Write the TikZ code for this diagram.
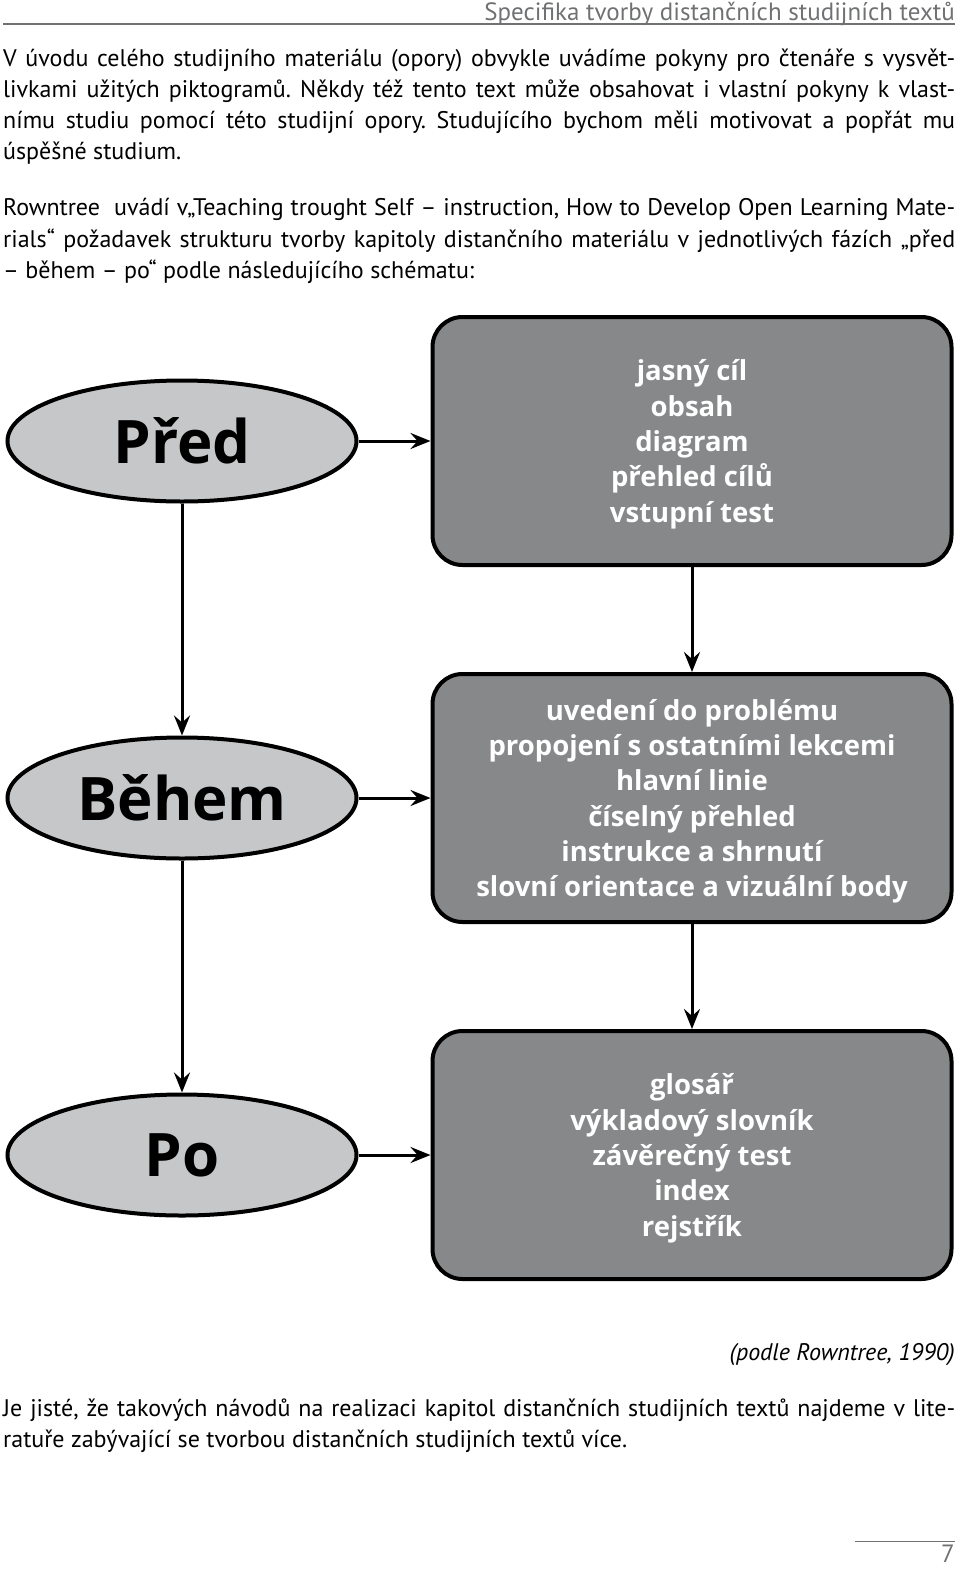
\documentclass[tikz,border=0pt]{standalone}
\usepackage{fontspec}
\setmainfont{PT Sans}
\newfontfamily\headfont{PT Sans}
\newfontfamily\diagfont{Open Sans}
\usetikzlibrary{positioning}
\usetikzlibrary{shapes.geometric}
\usetikzlibrary{arrows.meta}
\definecolor{boxgray}{HTML}{87888A}
\definecolor{ellgray}{HTML}{C6C7C8}
\definecolor{headgray}{HTML}{707173}
\frenchspacing

\begin{document}
\begin{tikzpicture}[x=1pt,y=-1pt,
    body/.style={anchor=base west, inner sep=0pt, font=\fontsize{24}{31}\selectfont},
    phase/.style={ellipse, draw=black, line width=4pt, fill=ellgray,
        minimum width=349pt, minimum height=121pt, inner sep=0pt,
        font=\diagfont\bfseries\fontsize{60}{60}\selectfont},
    items/.style={rectangle, rounded corners=30pt, draw=black, line width=4pt, fill=boxgray,
        minimum width=519pt, minimum height=248pt, align=center, text=white,
        text depth=0pt, font=\diagfont\bfseries\fontsize{27.5}{35.3}\selectfont},
    link/.style={line width=3pt, -{Stealth[length=20pt,width=16pt,inset=7pt]}},
  ]
  \useasboundingbox (0,0) rectangle (960,1569);

  % header
  \node[anchor=base east, inner sep=0pt, text=headgray, font=\headfont\fontsize{25}{25}\selectfont] (head) at (955,20) {Specifika tvorby distančních studijních textů};
  \coordinate (headL) at (3,24);
  \coordinate (headR) at (955,24);
  \draw[headgray, line width=1.5pt] (headL) -- (headR);

  % text above
  \node[body] (t1) at (3,66) {\makebox[952pt][s]{V úvodu celého studijního materiálu (opory) obvykle uvádíme pokyny pro čtenáře s vysvět-}};
  \node[body] (t2) at (3,97) {\makebox[952pt][s]{livkami užitých piktogramů. Někdy též tento text může obsahovat i vlastní pokyny k vlast-}};
  \node[body] (t3) at (3,128) {\makebox[952pt][s]{nímu studiu pomocí této studijní opory. Studujícího bychom měli motivovat a popřát mu}};
  \node[body] (t4) at (3,159) {úspěšné studium.};
  \node[body] (t5) at (3,215) {\makebox[952pt][s]{Rowntree\ \ uvádí v„Teaching trought Self – instruction, How to Develop Open Learning Mate-}};
  \node[body] (t6) at (3,247) {\makebox[952pt][s]{rials“ požadavek strukturu tvorby kapitoly distančního materiálu v jednotlivých fázích „před}};
  \node[body] (t7) at (3,278) {– během – po“ podle následujícího schématu:};

  % phases
  \node[phase] (pred) at (182,441) {Před};
  \node[phase] (behem) at (182,798) {Během};
  \node[phase] (po) at (182,1155) {Po};

  \node[items, right=72pt of pred] (goals) {jasný cíl\\obsah\\diagram\\přehled cílů\\vstupní test};
  \node[items, right=72pt of behem] (guide) {uvedení do problému\\propojení s ostatními lekcemi\\hlavní linie\\číselný přehled\\instrukce a shrnutí\\slovní orientace a vizuální body};
  \node[items, right=72pt of po] (close) {glosář\\výkladový slovník\\závěrečný test\\index\\rejstřík};

  \draw[link] (pred) -- (goals);
  \draw[link] (behem) -- (guide);
  \draw[link] (po) -- (close);
  \draw[link] (pred) -- (behem);
  \draw[link] (behem) -- (po);
  \draw[link] (goals) -- (guide);
  \draw[link] (guide) -- (close);

  % text below
  \node[body, anchor=base east, font=\itshape\fontsize{24}{31}\selectfont] (cite) at (955,1360) {(podle Rowntree, 1990)};
  \node[body] (t8) at (3,1416) {\makebox[952pt][s]{Je jisté, že takových návodů na realizaci kapitol distančních studijních textů najdeme v lite-}};
  \node[body] (t9) at (3,1447) {ratuře zabývající se tvorbou distančních studijních textů více.};

  % page number
  \coordinate (footL) at (855,1541);
  \coordinate (footR) at (955,1541);
  \draw[headgray, line width=1pt] (footL) -- (footR);
  \node[anchor=base east, inner sep=0pt, text=headgray, font=\headfont\fontsize{25}{25}\selectfont] (page) at (955,1562) {7};
\end{tikzpicture}
\end{document}
